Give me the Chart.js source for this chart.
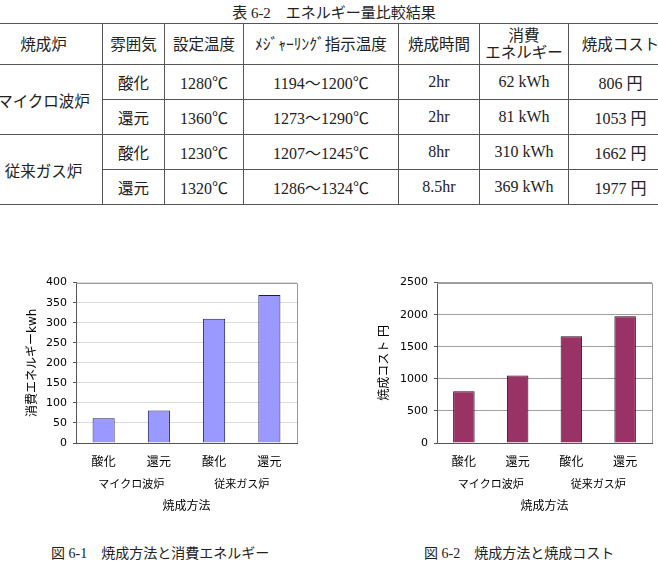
<!DOCTYPE html>
<html lang="ja">
<head>
<meta charset="utf-8">
<script src="https://cdn.jsdelivr.net/npm/chart.js@4"></script>
<style>
  html, body { margin:0; padding:0; background:#fff; }
  body { width:658px; height:568px; position:relative; overflow:hidden; }
  .serif { font-family: 'Liberation Serif', 'Noto Sans CJK JP', serif; color:#222; }
  #title { position:absolute; top:4px; left:0; width:668px; text-align:center; font-size:15px; line-height:18px; }
  table { position:absolute; left:-16px; top:23px; width:688px; border-collapse:collapse; table-layout:fixed; font-size:16px; }
  td { border:1px solid #555; text-align:center; vertical-align:middle; padding:0; white-space:nowrap; overflow:hidden; }
  tr.h td { height:40px; line-height:17px; font-size:15.5px; }
  tr.r td { height:34px; }
  .cap { position:absolute; top:545px; font-size:14px; line-height:18px; white-space:nowrap; }
  canvas { position:absolute; }
</style>
</head>
<body>
<div id="title" class="serif">表 6-2　エネルギー量比較結果</div>
<table class="serif" id="tbl"></table>
<canvas id="c1" width="300" height="265" style="left:20px;top:270px;width:300px;height:265px"></canvas>
<canvas id="c2" width="298" height="265" style="left:360px;top:270px;width:298px;height:265px"></canvas>
<div class="cap serif" style="left:51px">図 6-1　焼成方法と消費エネルギー</div>
<div class="cap serif" style="left:424px">図 6-2　焼成方法と焼成コスト</div>
<script>
// ---- data ----
const categories = ['酸化', '還元', '酸化', '還元'];
const groups = ['マイクロ波炉', '従来ガス炉'];
const energy = [62, 81, 310, 369];
const cost = [806, 1053, 1662, 1977];
const setTemp = ['1280℃', '1360℃', '1230℃', '1320℃'];
const ringTemp = ['1194～1200℃', '1273～1290℃', '1207～1245℃', '1286～1324℃'];
const fireTime = ['2hr', '2hr', '8hr', '8.5hr'];
const headers = ['焼成炉', '雰囲気', '設定温度', 'ﾒｼﾞｬｰﾘﾝｸﾞ指示温度', '焼成時間', '消費<br>エネルギー', '焼成コスト'];
const colWidths = [118, 62, 79, 155, 81, 89, 104];

// ---- table ----
(function(){
  const t = document.getElementById('tbl');
  let html = '<colgroup>' + colWidths.map(w => '<col style="width:' + w + 'px">').join('') + '</colgroup>';
  html += '<tr class="h">' + headers.map(h => '<td>' + h + '</td>').join('') + '</tr>';
  for (let i = 0; i < 4; i++) {
    html += '<tr class="r">';
    if (i % 2 === 0) html += '<td rowspan="2" style="font-size:15.5px">' + groups[i/2] + '</td>';
    html += '<td style="font-size:15.5px">' + categories[i] + '</td><td>' + setTemp[i] + '</td><td>' + ringTemp[i] + '</td><td>' +
      fireTime[i] + '</td><td>' + energy[i] + ' kWh</td><td>' + cost[i] + ' 円</td></tr>';
  }
  t.innerHTML = html;
})();

// ---- charts ----
const FONT = "'DejaVu Sans', 'Noto Sans CJK JP', sans-serif";
const framePlugin = {
  id: 'frame',
  afterDraw(chart, args, opts) {
    const a = chart.chartArea, ctx = chart.ctx;
    ctx.save();
    ctx.strokeStyle = opts.color;
    ctx.lineWidth = 1;
    ctx.beginPath();
    ctx.moveTo(a.left, Math.round(a.top) + 0.5);
    ctx.lineTo(Math.round(a.right) + 0.5, Math.round(a.top) + 0.5);
    ctx.lineTo(Math.round(a.right) + 0.5, a.bottom);
    ctx.stroke();
    ctx.restore();
  }
};

function makeChart(id, values, fill, edge, max, step, yTitle, gridColor, frameColor, yWidth, padRight, titlePad) {
  return new Chart(document.getElementById(id), {
    type: 'bar',
    data: {
      labels: categories,
      datasets: [{
        data: values,
        backgroundColor: fill,
        borderColor: edge,
        borderWidth: 1,
        borderSkipped: 'bottom',
        categoryPercentage: 1,
        barPercentage: 0.4,
        xAxisID: 'x'
      }]
    },
    options: {
      responsive: false,
      animation: false,
      devicePixelRatio: 1,
      layout: { padding: { top: 11, right: padRight, bottom: 19, left: 0 } },
      plugins: { legend: { display: false }, tooltip: { enabled: false }, frame: { color: frameColor } },
      scales: {
        x: {
          type: 'category',
          offset: true,
          grid: { display: false, drawTicks: false },
          border: { display: true, color: '#555' },
          ticks: { color: '#000', font: { family: FONT, size: 12 }, padding: 13, maxRotation: 0 },
          afterFit(s) { s.height = 27; }
        },
        x2: {
          type: 'category',
          labels: groups,
          position: 'bottom',
          offset: true,
          grid: { display: false, drawTicks: false },
          border: { display: false },
          ticks: { color: '#000', font: { family: FONT, size: 11 }, padding: 9, maxRotation: 0 },
          title: { display: true, text: '焼成方法', color: '#000', font: { family: FONT, size: 12 }, padding: { top: 4, bottom: 2 } },
          afterFit(s) { s.height = 46; }
        },
        y: {
          min: 0, max: max,
          ticks: { stepSize: step, color: '#000', font: { family: FONT, size: 11 }, padding: 6, callback: v => String(v) },
          grid: { color: gridColor, tickColor: '#555', tickLength: 3 },
          border: { display: true, color: '#555' },
          title: { display: true, text: yTitle, color: '#000', font: { family: FONT, size: 12 }, padding: { top: titlePad, bottom: 0 } },
          afterFit(s) { s.width = yWidth; }
        }
      }
    },
    plugins: [framePlugin]
  });
}

makeChart('c1', energy, '#9999FF', '#1c1c5a', 400, 50, '消費エネルギーkwh', '#dcdcdc', '#9a9a9a', 56, 23, 6);
makeChart('c2', cost, '#993366', '#2a0a1a', 2500, 500, '焼成コスト 円', '#a0a0a0', '#9a9a9a', 77, 6, 18);
</script>
</body>
</html>
